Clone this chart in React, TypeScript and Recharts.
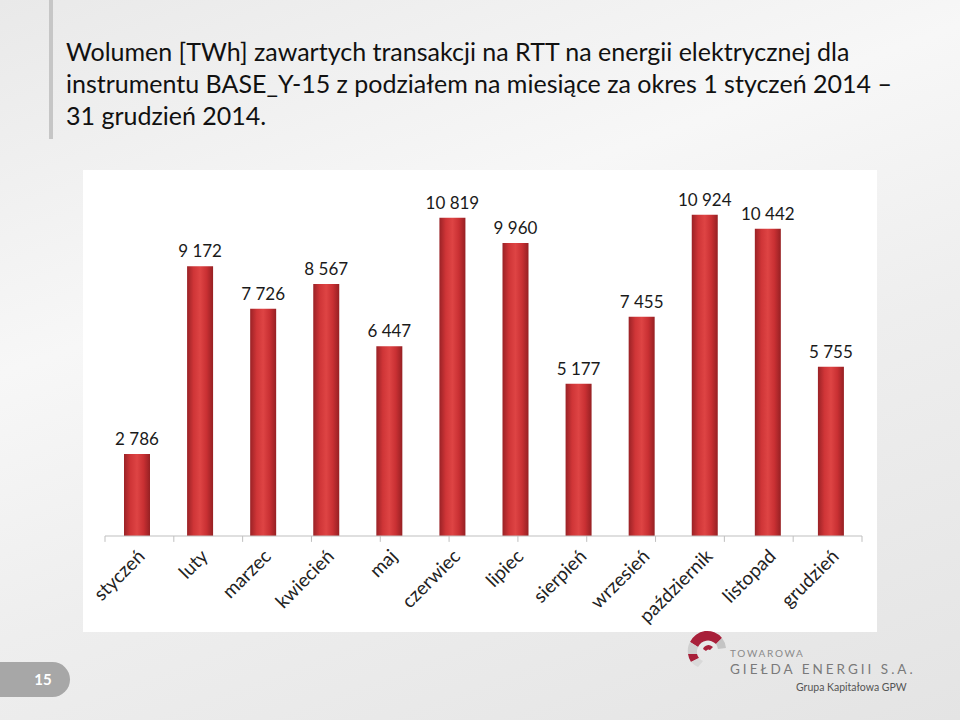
import { BarChart, Bar, XAxis, YAxis, LabelList, ReferenceLine } from 'recharts';

const months = [
  'styczeń', 'luty', 'marzec', 'kwiecień', 'maj', 'czerwiec',
  'lipiec', 'sierpień', 'wrzesień', 'październik', 'listopad', 'grudzień',
];
const volumes = [2786, 9172, 7726, 8567, 6447, 10819, 9960, 5177, 7455, 10924, 10442, 5755];
const edgeTicks = [0, 1, 2, 3, 4, 5, 6, 7, 8, 9, 10, 11, 12];

const titleLines = [
  'Wolumen [TWh] zawartych transakcji na RTT na energii elektrycznej dla',
  'instrumentu BASE_Y-15 z podziałem na miesiące za okres 1 styczeń 2014 –',
  '31 grudzień 2014.',
];

const FONT = 'Lato, "Open Sans", sans-serif';

// non-breaking space so the label never wraps
function formatVolume(v: number): string {
  return String(v).replace(/\B(?=(\d{3})+(?!\d))/g, '\u00A0');
}

function Logo() {
  return (
    <svg width={260} height={70} style={{ position: 'absolute', left: 680, top: 628 }}>
      <g transform="translate(27,22)">
        <path d="M-17,-8 A19,19 0 0 1 15,-12 L9,-6 A11,11 0 0 0 -9,-3 Z" fill="#a8203a" />
        <path d="M-19,4 A19,19 0 0 1 -17,-8 L-9,-3 A11,11 0 0 0 -10,4 Z" fill="#cfcfcf" />
        <path d="M-16,12 A19,19 0 0 1 -19,4 L-10,4 A11,11 0 0 0 -8,8 Z" fill="#a8203a" />
        <path d="M-9,17 A19,19 0 0 1 -16,12 L-8,8 A11,11 0 0 0 -4,11 Z" fill="#d9d9d9" />
        <path d="M15,-12 A19,19 0 0 1 19,-2 L11,-1 A11,11 0 0 0 9,-6 Z" fill="#c4c4c4" />
        <path d="M-4,-1 A6,6 0 0 1 6,-3 L3,0 A3,3 0 0 0 -1,1 Z" fill="#a8203a" />
      </g>
      <text x={50} y={29} fontSize={10} fill="#8a8a8a" fontFamily={FONT} letterSpacing={1.7}>
        TOWAROWA
      </text>
      <text x={50} y={46} fontSize={13.5} fill="#7a7a7a" fontFamily={FONT} letterSpacing={3}>
        GIEŁDA ENERGII S.A.
      </text>
      <text x={116} y={63} fontSize={10.5} fill="#555" fontFamily={FONT}>
        Grupa Kapitałowa GPW
      </text>
    </svg>
  );
}

export default function App() {
  const data = months.map((m, i) => ({ month: m, volume: volumes[i] }));

  return (
    <div
      style={{
        position: 'absolute',
        left: 0,
        top: 0,
        width: 960,
        height: 720,
        overflow: 'hidden',
        background: 'linear-gradient(160deg, #e9e9e9 0%, #f7f7f7 35%, #eeeeee 60%, #e4e4e4 100%)',
        fontFamily: FONT,
      }}
    >
      <div style={{ position: 'absolute', left: 49, top: 0, width: 4, height: 139, background: '#c6c6c6' }} />
      <div
        style={{
          position: 'absolute',
          left: 66,
          top: 35,
          fontSize: 25,
          lineHeight: '32px',
          color: '#111',
          whiteSpace: 'nowrap',
        }}
      >
        {titleLines.map((l) => (
          <div key={l}>{l}</div>
        ))}
      </div>

      <div style={{ position: 'absolute', left: 83, top: 170, width: 794, height: 462, background: '#fff' }}>
        <BarChart width={794} height={462} data={data} margin={{ top: 13, right: 15, bottom: 0, left: 22 }}>
          <defs>
            <linearGradient id="barRed" x1="0" y1="0" x2="1" y2="0">
              <stop offset="0%" stopColor="#9a2226" />
              <stop offset="25%" stopColor="#cf3537" />
              <stop offset="50%" stopColor="#de4444" />
              <stop offset="75%" stopColor="#c93033" />
              <stop offset="100%" stopColor="#962023" />
            </linearGradient>
          </defs>
          <XAxis
            dataKey="month"
            axisLine={{ stroke: '#bfbfbf' }}
            tickLine={false}
            interval={0}
            angle={-45}
            textAnchor="end"
            dx={0}
            dy={4}
            tick={{ fontSize: 19, fill: '#222', fontFamily: FONT }}
            height={96}
          />
          <XAxis xAxisId="edges" type="number" domain={[0, 12]} allowDataOverflow hide />
          <YAxis hide domain={[0, 12000]} />
          {edgeTicks.map((t) => (
            <ReferenceLine
              key={t}
              xAxisId="edges"
              segment={[{ x: t, y: 0 }, { x: t, y: -200 }]}
              ifOverflow="visible"
              stroke="#bfbfbf"
            />
          ))}
          <Bar dataKey="volume" barSize={26} fill="url(#barRed)" isAnimationActive={false}>
            <LabelList
              dataKey="volume"
              position="top"
              offset={9}
              formatter={(v: any) => formatVolume(Number(v))}
              style={{ fontSize: 17, fill: '#1a1a1a', fontFamily: FONT }}
            />
          </Bar>
        </BarChart>
      </div>

      <div
        style={{
          position: 'absolute',
          left: 0,
          top: 662,
          width: 70,
          height: 35,
          background: '#a7a7a7',
          borderRadius: '0 18px 18px 0',
          color: '#fff',
          fontSize: 15,
          fontWeight: 700,
          lineHeight: '35px',
          textAlign: 'center',
          paddingLeft: 16,
          boxSizing: 'border-box',
        }}
      >
        15
      </div>
      <Logo />
    </div>
  );
}
